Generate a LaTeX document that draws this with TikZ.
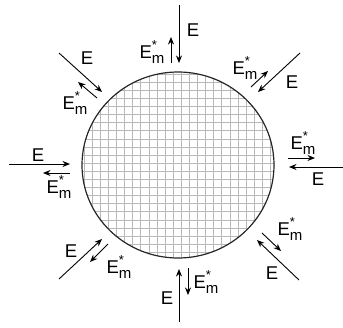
\documentclass[tikz,border=0pt]{standalone}
\usepackage{fontspec}
\setmainfont{Liberation Sans}
\usetikzlibrary{arrows.meta,shapes.geometric}
\newcommand\EmLab{E\rlap{\raisebox{0.5em}{\fontsize{13}{13}\selectfont *}}\raisebox{-0.28em}{\fontsize{15}{15}\selectfont m}}
\tikzset{
  lab/.style={inner sep=0pt, font=\fontsize{18.5}{18.5}\selectfont},
  ray/.style={line width=0.9pt, -{Stealth[length=7.5pt,width=6pt]}},
  gridline/.style={draw=gray!55, line width=0.55pt},
  rim/.style={draw=black!85, line width=1.2pt}
}
\begin{document}
\begin{tikzpicture}[x=1pt,y=-1pt]
\useasboundingbox (0,0) rectangle (343,327);
% body
\begin{scope}
  \clip (178,165) ellipse [x radius=96, y radius=93];
  \foreach \i in {0,...,24} {
    \draw[gridline] ({84+\i*8.1},60) -- ({84+\i*8.1},270);
    \draw[gridline] (70,{74+\i*8.1}) -- (290,{74+\i*8.1});
  }
\end{scope}
\node[rim, ellipse, minimum width=192pt, minimum height=186pt, inner sep=0pt] (body) at (178,165) {};
% top
\coordinate (tEa) at (179,5);   \coordinate (tEb) at (179,63);
\coordinate (tMa) at (171,63);  \coordinate (tMb) at (171,37);
\draw[ray] (tEa) -- (tEb); \draw[ray] (tMa) -- (tMb);
\node[lab] (tE) at (193,30) {E};
\node[lab] (tM) at (152,52) {\EmLab};
% top-left
\coordinate (nwEa) at (59,53);  \coordinate (nwEb) at (102,92);
\coordinate (nwMa) at (97,98);  \coordinate (nwMb) at (78,82);
\draw[ray] (nwEa) -- (nwEb); \draw[ray] (nwMa) -- (nwMb);
\node[lab] (nwE) at (87,58) {E};
\node[lab] (nwM) at (75,103) {\EmLab};
% top-right
\coordinate (neEa) at (300,53); \coordinate (neEb) at (258,92);
\coordinate (neMa) at (251,87); \coordinate (neMb) at (268,71);
\draw[ray] (neEa) -- (neEb); \draw[ray] (neMa) -- (neMb);
\node[lab] (neE) at (292,82) {E};
\node[lab] (neM) at (245,68) {\EmLab};
% left
\coordinate (wEa) at (9,164);   \coordinate (wEb) at (70,164);
\coordinate (wMa) at (70,173);  \coordinate (wMb) at (43,173);
\draw[ray] (wEa) -- (wEb); \draw[ray] (wMa) -- (wMb);
\node[lab] (wE) at (38,155) {E};
\node[lab] (wM) at (59,187) {\EmLab};
% right
\coordinate (eMa) at (288,158); \coordinate (eMb) at (315,158);
\coordinate (eEa) at (343,167); \coordinate (eEb) at (289,167);
\draw[ray] (eMa) -- (eMb); \draw[ray] (eEa) -- (eEb);
\node[lab] (eM) at (303,143) {\EmLab};
\node[lab] (eE) at (318,179) {E};
% bottom-left
\coordinate (swEa) at (59,279); \coordinate (swEb) at (102,239);
\coordinate (swMa) at (108,244);\coordinate (swMb) at (90,262);
\draw[ray] (swEa) -- (swEb); \draw[ray] (swMa) -- (swMb);
\node[lab] (swE) at (71,251) {E};
\node[lab] (swM) at (119,267) {\EmLab};
% bottom
\coordinate (sEa) at (179,322); \coordinate (sEb) at (179,269);
\coordinate (sMa) at (188,268); \coordinate (sMb) at (188,295);
\draw[ray] (sEa) -- (sEb); \draw[ray] (sMa) -- (sMb);
\node[lab] (sE) at (167,298) {E};
\node[lab] (sM) at (206,282) {\EmLab};
% bottom-right
\coordinate (seEa) at (299,280);\coordinate (seEb) at (257,240);
\coordinate (seMa) at (262,233);\coordinate (seMb) at (281,251);
\draw[ray] (seEa) -- (seEb); \draw[ray] (seMa) -- (seMb);
\node[lab] (seE) at (272,273) {E};
\node[lab] (seM) at (290,229) {\EmLab};
\end{tikzpicture}
\end{document}
